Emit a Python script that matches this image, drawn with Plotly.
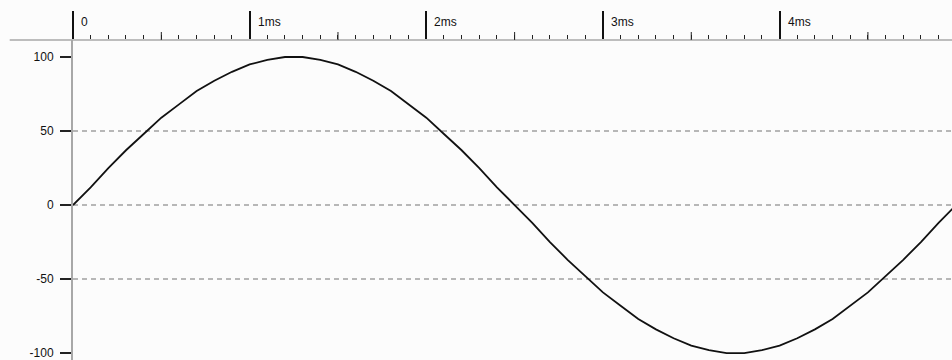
import plotly.graph_objects as go

# time in ms
t_ms = [round(i * 0.1, 1) for i in range(51)]
amplitude = [0, 12, 25, 37, 48, 59, 68, 77, 84, 90, 95, 98, 100, 100, 98, 95, 90, 84, 77, 68, 59,
             48, 37, 25, 12, 0, -12, -25, -37, -48, -59, -68, -77, -84, -90, -95, -98, -100, -100,
             -98, -95, -90, -84, -77, -68, -59, -48, -37, -25, -12, 0]

x_major = [0, 1, 2, 3, 4]
x_labels = ["0", "1ms", "2ms", "3ms", "4ms"]
x_half = [0.5, 1.5, 2.5, 3.5, 4.5]
y_ticks = [100, 50, 0, -50, -100]
y_labels = ["100", "50", "0", "-50", "-100"]
grid_levels = [50, 0, -50]

fig = go.Figure()
fig.add_trace(go.Scatter(x=t_ms, y=amplitude, mode="lines",
                         line=dict(color="#111111", width=1.8), hoverinfo="skip"))

font = dict(family="Liberation Sans, Arial, sans-serif", size=12, color="#111111")

shapes = []
# top axis line extending left of the plot
shapes.append(dict(type="line", xref="paper", yref="paper", x0=-0.072, x1=1, y0=1, y1=1,
                   line=dict(color="#a8a8a8", width=1.5), layer="below"))
for g in grid_levels:
    shapes.append(dict(type="line", xref="paper", yref="y", x0=0, x1=1, y0=g, y1=g,
                       line=dict(color="#a0a0a0", width=1.5, dash="5px,4px"), layer="below"))
for h in x_half:
    shapes.append(dict(type="line", xref="x", yref="paper", x0=h, x1=h, y0=1, y1=1 + 8 / 320,
                       line=dict(color="#222222", width=1)))

annotations = []
for v, lab in zip(x_major, x_labels):
    annotations.append(dict(x=v, y=1, xref="x", yref="paper", text=lab, showarrow=False,
                            xanchor="left", yanchor="middle", xshift=6, yshift=18, font=font))

fig.update_layout(
    width=952, height=360,
    margin=dict(l=73, r=0, t=40, b=0),
    paper_bgcolor="#fcfcfc", plot_bgcolor="#fcfcfc",
    showlegend=False,
    shapes=shapes, annotations=annotations,
    xaxis=dict(side="top", range=[0, 4.976], showgrid=False, zeroline=False, showline=False,
               tickvals=x_major, showticklabels=False, ticks="outside", ticklen=28,
               tickwidth=2, tickcolor="#111111",
               minor=dict(ticks="outside", dtick=0.1, tick0=0, ticklen=4, tickwidth=1,
                          tickcolor="#222222", showgrid=False)),
    yaxis=dict(range=[-104.7, 111.5], showgrid=False, zeroline=False, showline=True,
               linecolor="#a8a8a8", linewidth=2, tickvals=y_ticks, ticktext=y_labels,
               ticks="outside", ticklen=11, tickwidth=2, tickcolor="#222222",
               ticklabelstandoff=4, ticklabeloverflow="allow", tickfont=font),
)

fig.write_html("out.html")
